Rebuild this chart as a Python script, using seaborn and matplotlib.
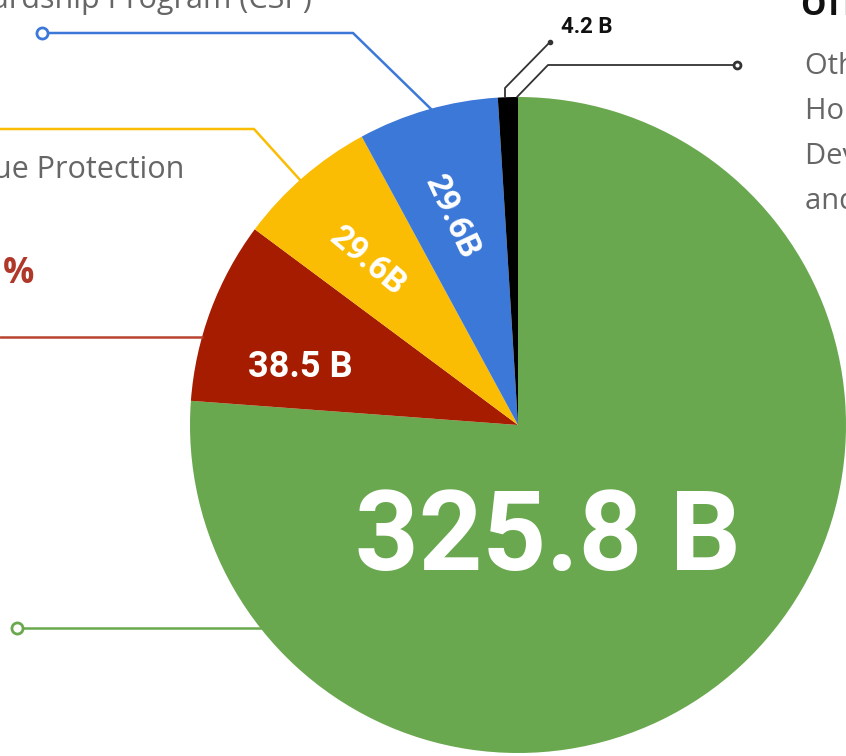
import matplotlib
matplotlib.use("Agg")
import matplotlib.pyplot as plt
import seaborn as sns

# ---- data ----
categories = ["Nutrition", "Crop Insurance", "Revenue Protection", "Conservation", "Other"]
values = [325.8, 38.5, 29.6, 29.6, 4.2]
slice_labels = ["325.8 B", "38.5 B", "29.6B", "29.6B", "4.2 B"]
colors = ["#6aa84f", "#a61c00", "#fbbc04", "#3c78d8", "#000000"]

sns.set_theme(style="white")
plt.rcParams["font.family"] = ["Roboto", "DejaVu Sans"]

W, H = 846, 756
fig = plt.figure(figsize=(W / 100, H / 100), dpi=100)
ax = fig.add_axes([0, 0, 1, 1])

def Y(y):
    return H - y

ax.pie(values, colors=colors, startangle=90, counterclock=False,
       center=(518, Y(425)), radius=328,
       wedgeprops=dict(linewidth=0, antialiased=True))
ax.set_xlim(0, W)
ax.set_ylim(0, H)
ax.set_aspect("equal")
ax.axis("off")

# ---- slice labels ----
ax.text(548, Y(570), slice_labels[0], color="white", fontsize=80,
        fontweight="bold", ha="center", va="baseline")
ax.text(300, Y(377), slice_labels[1], color="white", fontsize=26,
        fontweight="bold", ha="center", va="baseline")
ax.text(368, Y(262), slice_labels[2], color="white", fontsize=24,
        fontweight="bold", ha="center", va="center", rotation=-40,
        rotation_mode="anchor")
ax.text(452, Y(217), slice_labels[3], color="white", fontsize=24,
        fontweight="bold", ha="center", va="center", rotation=-65,
        rotation_mode="anchor")
ax.text(587, Y(33), slice_labels[4], color="#111111", fontsize=16,
        fontweight="bold", ha="center", va="baseline")

# ---- leader lines ----
def leader(xs, ys, color, lw=1.8):
    ax.plot(xs, [Y(v) for v in ys], color=color, lw=lw, solid_capstyle="round",
            clip_on=False)

def ring(x, y, color, size=8):
    ax.plot([x], [Y(y)], marker="o", ms=size, mfc="white", mec=color, mew=2,
            clip_on=False)

leader([46, 353, 432], [33, 33, 110], "#3c78d8")
ring(42, 33, "#3c78d8")
leader([0, 254, 301], [129, 129, 181], "#fbbc04")
leader([0, 202], [337, 337], "#b8432f")
leader([21, 261], [628, 628], "#6aa84f")
ring(17, 628, "#6aa84f")
leader([505, 505, 550], [97, 88, 42], "#333333", lw=1.3)
ax.plot([550], [Y(42)], marker="o", ms=3, color="#333333", clip_on=False)
leader([517, 548, 734], [97, 65, 65], "#333333", lw=1.3)
ring(737, 65, "#333333", size=5)

# ---- surrounding text ----
gray = "#666666"
side = ["Open Sans", "DejaVu Sans"]
ax.text(312, Y(8), "Conservation Stewardship Program (CSP)", color=gray,
        fontsize=22, family=side, fontweight="medium", ha="right",
        va="baseline", clip_on=False)
ax.text(184, Y(178), "Revenue Protection", color=gray, fontsize=22,
        family=side, fontweight="medium", ha="right", va="baseline",
        clip_on=False)
ax.text(34, Y(283), "%", color="#b0382a", fontsize=25, fontweight="bold",
        family=side, ha="right", va="baseline", clip_on=False)
ax.text(800, Y(15), "OTHER", color="#111111", fontsize=23, fontweight="bold",
        family=side, ha="left", va="baseline", clip_on=False)
for i, line in enumerate(["Other programs", "Horticulture, Rural",
                          "Development, Research", "and Trade"]):
    ax.text(805, Y(74 + 45 * i), line, color=gray, fontsize=21, family=side,
            fontweight="medium", ha="left", va="baseline", clip_on=False)

fig.savefig("out.png", dpi=100)
